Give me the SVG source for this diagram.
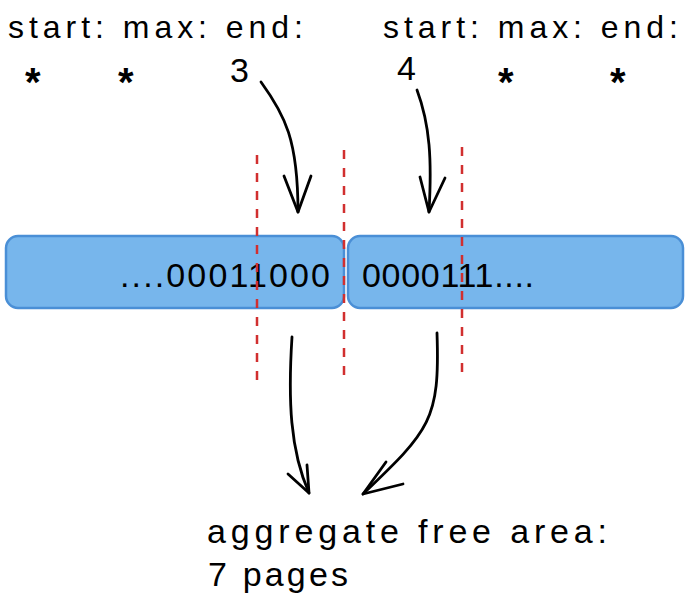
<svg xmlns="http://www.w3.org/2000/svg" width="685" height="609" viewBox="0 0 685 609">
<style>
.t{font-family:"Liberation Sans","DejaVu Sans",sans-serif;fill:#000;}
.s{font-family:"Liberation Sans","DejaVu Sans",sans-serif;fill:#000;font-size:40px;font-weight:bold;}
.box{fill:#77b6ec;stroke:#4a8fd6;stroke-width:2.5;}
.red{stroke:#d12f2f;stroke-width:2.5;stroke-dasharray:9 9;fill:none;}
.arr{stroke:#000;stroke-width:2.8;fill:none;stroke-linecap:round;stroke-linejoin:round;}
</style>
<rect width="685" height="609" fill="#fff"/>
<g id="labels-top">
<text class="t" x="8" y="38" font-size="32" textLength="295">start: max: end:</text>
<text class="t" x="383" y="38" font-size="32" textLength="295">start: max: end:</text>
<text class="s" x="25" y="96">*</text>
<text class="s" x="118" y="96">*</text>
<text class="t" x="230" y="82" font-size="34">3</text>
<text class="t" x="397" y="80" font-size="34">4</text>
<text class="s" x="498" y="96">*</text>
<text class="s" x="610" y="96">*</text>
</g>
<g id="box-left">
<rect class="box" x="6" y="236" width="338" height="72" rx="12"/>
<text class="t" x="120" y="287" font-size="34" textLength="210">....00011000</text>
</g>
<g id="box-right">
<rect class="box" x="348" y="236" width="335" height="72" rx="12"/>
<text class="t" x="362" y="287" font-size="34" textLength="172">0000111....</text>
</g>
<g id="dividers">
<line class="red" x1="257" y1="155" x2="257" y2="384"/>
<line class="red" x1="344" y1="150" x2="344" y2="378"/>
<line class="red" x1="462" y1="147" x2="462" y2="374"/>
</g>
<g id="connectors">
<path class="arr" d="M261 82 C285 115 298 140 298 212"/>
<path class="arr" d="M284 176 L298 212 L311 176"/>
<path class="arr" d="M417 90 C430 125 432 160 429 212"/>
<path class="arr" d="M420 177 L429 212 L445 178"/>
<path class="arr" d="M292 337 C288 400 290 450 309 493"/>
<path class="arr" d="M288 474 L309 493 L307 465"/>
<path class="arr" d="M437 333 C440 420 430 430 363 494"/>
<path class="arr" d="M386 462 L363 494 L403 484"/>
</g>
<g id="label-bottom">
<text class="t" x="207" y="543" font-size="34" textLength="400">aggregate free area:</text>
<text class="t" x="208" y="586" font-size="34" textLength="140">7 pages</text>
</g>
</svg>
